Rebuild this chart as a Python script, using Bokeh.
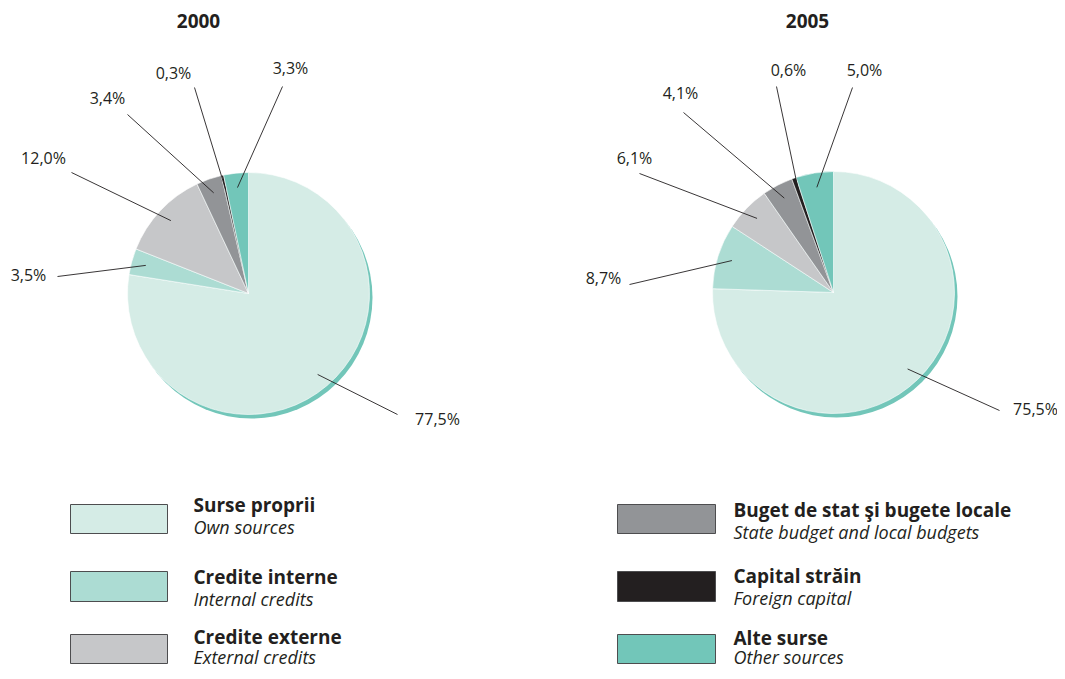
import math
from bokeh.plotting import figure
from bokeh.models import Range1d, ColumnDataSource
from bokeh.core.properties import value
from bokeh.embed import file_html
from bokeh.resources import INLINE

# ---------------- data ----------------
categories = ["Surse proprii", "Credite interne", "Credite externe",
              "Buget de stat şi bugete locale", "Capital străin", "Alte surse"]
categories_en = ["Own sources", "Internal credits", "External credits",
                 "State budget and local budgets", "Foreign capital", "Other sources"]
years = ["2000", "2005"]
values_2000 = [77.5, 3.5, 12.0, 3.4, 0.3, 3.3]
values_2005 = [75.5, 8.7, 6.1, 4.1, 0.6, 5.0]
colors = ["#d5ece6", "#acdcd3", "#c6c7c9", "#929497", "#231f20", "#72c6b9"]

# ---------------- layout (screen pixels of the picture) ----------------
FONT = "Open Sans"
W, H = 1057, 671
p = figure(width=W, height=H, output_backend="svg", toolbar_location=None,
           x_range=Range1d(0, W), y_range=Range1d(-H, 0),
           min_border=0)
p.axis.visible = False
p.grid.visible = False
p.outline_line_color = None
p.background_fill_color = "white"

R = 121
pie_centers = [(248, 293), (833, 292)]
title_pos = [(198, 20), (807, 20)]
# label anchor (screen) and leader outer point (screen), in category order
label_pos = [
    [(437, 418), (28, 274), (43, 157), (107, 97), (173, 72), (290, 67)],
    [(1035, 408), (603, 277), (634, 157), (680, 92), (788, 69), (864, 69)],
]
leader_out = [
    [(397, 414), (57, 276), (71, 172), (127, 114), (194, 87), (282, 86)],
    [(999, 410), (629, 284), (639, 173), (683, 112), (776, 86), (852, 87)],
]

for k, vals in enumerate([values_2000, values_2005]):
    cx, cy = pie_centers[k]
    # shadow
    p.circle(x=[cx + 3], y=[-(cy + 4)], radius=R, fill_color="#72c6b9", line_color=None)
    # wedges: start at 12 o'clock, counterclockwise, from last category to first
    starts, ends, mids = [None] * 6, [None] * 6, [None] * 6
    acc = 90.0
    for i in reversed(range(len(vals))):
        a0 = acc
        a1 = acc + vals[i] * 3.6
        starts[i] = math.radians(a0)
        ends[i] = math.radians(a1)
        mids[i] = math.radians((a0 + a1) / 2)
        acc = a1
    src = ColumnDataSource(dict(x=[cx] * 6, y=[-cy] * 6, s=starts, e=ends, c=colors))
    p.wedge(x="x", y="y", radius=R, start_angle="s", end_angle="e", direction="anticlock",
            fill_color="c", line_color="white", line_width=0.6, source=src)
    # leader lines
    xs, ys = [], []
    for i in range(6):
        ox, oy = leader_out[k][i]
        ix = cx + 0.88 * R * math.cos(mids[i])
        iy = -cy + 0.88 * R * math.sin(mids[i])
        xs.append([ox, ix])
        ys.append([-oy, iy])
    p.multi_line(xs=xs, ys=ys, line_color="#231f20", line_width=0.9)
    # percentage labels
    lab = [f"{v:.1f}".replace(".", ",") + "%" for v in vals]
    p.text(x=[q[0] for q in label_pos[k]], y=[-q[1] for q in label_pos[k]], text=lab,
           text_font=value(FONT), text_font_size="16px", text_color="#231f20",
           text_align="center", text_baseline="middle")
    # title
    p.text(x=[title_pos[k][0]], y=[-title_pos[k][1]], text=[years[k]],
           text_font=value(FONT), text_font_size="19px", text_font_style="bold",
           text_color="#231f20", text_align="center", text_baseline="middle")

# ---------------- legend ----------------
box_x = [(70, 167), (617, 715)]
box_y = [(504, 533), (571, 601), (634, 663)]
text_x = [193, 733]
text_y = [[(504, 526), (576, 598), (636, 656)],
          [(509, 531), (575, 597), (637, 656)]]
for i in range(6):
    col, row = i // 3, i % 3
    x0, x1 = box_x[col]
    y0, y1 = box_y[row]
    p.quad(left=[x0], right=[x1], top=[-y0], bottom=[-y1], fill_color=colors[i],
           line_color="#4d4d4f", line_width=1)
    ty1, ty2 = text_y[col][row]
    p.text(x=[text_x[col]], y=[-ty1], text=[categories[i]], text_font=value(FONT),
           text_font_size="19px", text_font_style="bold", text_color="#231f20",
           text_align="left", text_baseline="middle")
    p.text(x=[text_x[col]], y=[-ty2], text=[categories_en[i]], text_font=value(FONT),
           text_font_size="18px", text_font_style="italic", text_color="#231f20",
           text_align="left", text_baseline="middle")

open("out.html", "w").write(file_html(p, INLINE))
